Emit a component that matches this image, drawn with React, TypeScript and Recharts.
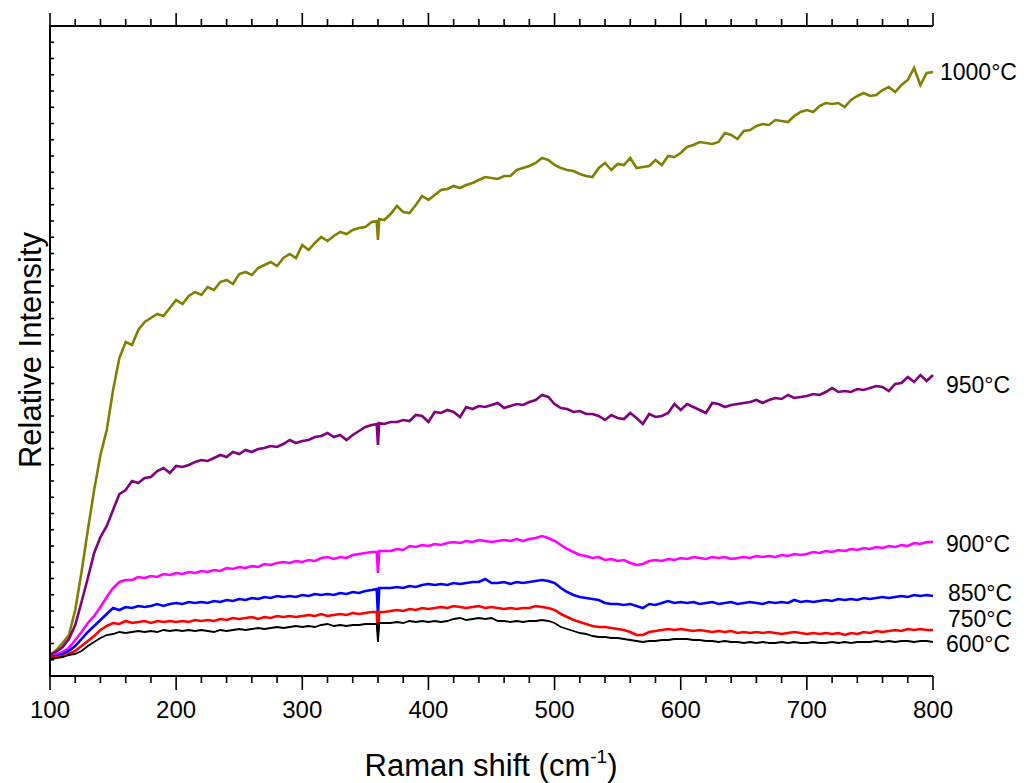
import { LineChart, Line, XAxis, YAxis } from "recharts";

// Raman shift grid (cm-1): every 5 cm-1, plus a finer step around the 360 spike
const shift = [
  ...Array.from({ length: 52 }, (_, i) => 100 + i * 5),
  359, 360, 361,
  ...Array.from({ length: 88 }, (_, i) => 365 + i * 5),
];

// relative intensity, arbitrary units (0 = baseline of the frame)
const t1000 = [
  21, 26, 33, 41, 66, 104, 146, 186, 221, 246, 286, 318, 334, 331, 346, 354, 358, 362, 360, 368,
  376, 372, 380, 384, 381, 389, 386, 394, 396, 392, 402, 404, 401, 408, 411, 414, 410, 418, 422, 418,
  431, 426, 433, 439, 435, 440, 444, 442, 446, 448, 449, 454, 455, 436, 457, 456, 462, 470, 464, 463, 471, 480,
  476, 481, 486, 487, 490, 488, 491, 493, 496, 499, 498, 497, 500, 500, 506, 508, 510, 513, 518, 516,
  511, 508, 506, 505, 502, 500, 499, 508, 513, 506, 512, 511, 518, 508, 509, 510, 516, 511, 520, 519,
  523, 529, 531, 534, 533, 532, 534, 543, 541, 537, 545, 546, 550, 552, 551, 556, 555, 554, 560, 564,
  566, 564, 570, 573, 572, 573, 569, 576, 580, 583, 580, 581, 586, 589, 584, 591, 596, 608, 591, 603,
  604,
];
const t950 = [
  21, 24, 29, 37, 51, 74, 98, 123, 139, 150, 166, 182, 186, 195, 193, 198, 199, 205, 208, 203,
  210, 209, 211, 214, 216, 215, 218, 221, 219, 224, 222, 226, 224, 227, 228, 230, 229, 232, 236, 233,
  235, 236, 239, 240, 243, 239, 241, 236, 241, 245, 249, 251, 252, 231, 253, 252, 254, 254, 256, 255, 261, 260,
  254, 264, 263, 266, 264, 259, 269, 267, 270, 269, 271, 273, 268, 270, 272, 271, 274, 276, 281, 279,
  272, 268, 267, 264, 265, 262, 262, 260, 256, 261, 258, 257, 263, 258, 252, 262, 259, 260, 263, 272,
  266, 272, 269, 266, 263, 273, 272, 269, 271, 272, 273, 274, 276, 273, 276, 278, 277, 281, 278, 279,
  280, 282, 281, 284, 288, 284, 285, 284, 287, 286, 288, 290, 289, 285, 292, 293, 299, 294, 301, 295,
  301,
];
const t900 = [
  19, 21, 24, 28, 36, 44, 53, 60, 69, 79, 88, 94, 96, 96, 99, 98, 100, 99, 102, 101,
  103, 102, 104, 103, 105, 104, 106, 105, 108, 107, 109, 108, 110, 109, 112, 111, 113, 114, 113, 115,
  114, 116, 115, 118, 119, 117, 119, 118, 121, 122, 123, 124, 124, 103, 125, 125, 125, 127, 126, 130, 129, 131,
  130, 132, 131, 133, 134, 133, 135, 134, 136, 135, 134, 135, 136, 135, 137, 135, 137, 138, 140, 138,
  135, 131, 127, 124, 121, 120, 118, 119, 116, 117, 115, 116, 113, 111, 112, 115, 116, 115, 117, 116,
  118, 117, 119, 118, 117, 119, 118, 119, 117, 118, 119, 118, 120, 119, 120, 119, 121, 120, 122, 121,
  122, 124, 123, 125, 124, 126, 125, 127, 126, 128, 127, 129, 128, 130, 129, 131, 130, 133, 132, 134,
  134,
];
const t850 = [
  19, 20, 22, 25, 30, 37, 44, 50, 56, 62, 68, 66, 69, 68, 70, 69, 70, 72, 70, 72,
  73, 72, 74, 73, 74, 73, 75, 74, 76, 75, 77, 76, 78, 77, 79, 78, 80, 79, 80, 79,
  81, 80, 82, 81, 82, 81, 83, 82, 84, 83, 85, 86, 87, 61, 88, 88, 88, 89, 88, 90, 89, 91,
  92, 91, 92, 91, 93, 92, 93, 94, 94, 97, 93, 93, 94, 92, 94, 93, 94, 95, 96, 95,
  93, 88, 84, 81, 79, 78, 77, 76, 73, 72, 72, 71, 72, 70, 68, 72, 71, 73, 75, 73,
  74, 73, 74, 72, 73, 74, 72, 73, 74, 72, 73, 74, 73, 72, 74, 73, 74, 73, 76, 74,
  75, 74, 75, 76, 75, 77, 76, 77, 76, 78, 77, 78, 79, 78, 79, 80, 79, 81, 80, 81,
  80,
];
const t750 = [
  18, 19, 20, 22, 25, 30, 35, 40, 46, 50, 53, 52, 55, 53, 54, 55, 53, 55, 54, 55,
  54, 55, 54, 56, 55, 56, 55, 57, 56, 58, 57, 58, 59, 57, 59, 58, 60, 59, 60, 59,
  60, 61, 60, 62, 60, 61, 62, 61, 63, 62, 63, 64, 64, 43, 64, 64, 65, 66, 65, 67, 66, 68,
  67, 68, 69, 68, 70, 69, 68, 69, 70, 68, 69, 68, 67, 68, 67, 68, 68, 70, 69, 68,
  66, 62, 59, 56, 54, 52, 50, 49, 49, 48, 47, 46, 44, 41, 41, 44, 45, 46, 47, 46,
  47, 46, 45, 46, 45, 44, 45, 44, 45, 43, 44, 43, 44, 43, 44, 43, 42, 43, 44, 43,
  42, 43, 42, 43, 42, 43, 41, 43, 42, 44, 43, 45, 44, 45, 46, 45, 47, 46, 47, 46,
  46,
];
const t600 = [
  17, 18, 19, 21, 22, 25, 30, 34, 38, 41, 42, 44, 43, 44, 45, 44, 45, 44, 46, 45,
  46, 45, 46, 45, 46, 45, 44, 46, 45, 46, 47, 46, 47, 48, 47, 48, 49, 48, 49, 50,
  49, 50, 49, 51, 52, 50, 51, 50, 51, 51, 52, 52, 52, 34, 53, 53, 53, 54, 53, 55, 54, 55,
  54, 55, 54, 55, 57, 58, 56, 57, 58, 57, 58, 55, 55, 54, 55, 54, 55, 55, 56, 55,
  53, 49, 47, 45, 43, 42, 40, 39, 39, 38, 38, 37, 36, 35, 34, 35, 35, 36, 36, 37,
  37, 37, 36, 36, 35, 35, 34, 35, 34, 34, 33, 34, 33, 34, 33, 33, 34, 33, 34, 33,
  33, 34, 33, 33, 34, 33, 34, 33, 34, 34, 34, 35, 34, 35, 34, 35, 35, 34, 35, 35,
  34,
];

const minorTicks = Array.from({ length: 36 }, (_, i) => 100 + i * 20);
const yTicks = Array.from({ length: 39 }, (_, i) => (i + 1) * 16.25);

const series = [
  { key: "t1000", color: "#808000", width: 2.6, values: t1000 },
  { key: "t950", color: "#800080", width: 2.6, values: t950 },
  { key: "t900", color: "#ff00ff", width: 2.6, values: t900 },
  { key: "t850", color: "#0000ff", width: 2.6, values: t850 },
  { key: "t750", color: "#ff0000", width: 2.6, values: t750 },
  { key: "t600", color: "#000000", width: 1.8, values: t600 },
];

// end labels: left x, baseline y
const endLabels = [
  { text: "1000°C", x: 940, y: 80 },
  { text: "950°C", x: 946, y: 393 },
  { text: "900°C", x: 946, y: 552 },
  { text: "850°C", x: 948, y: 601 },
  { text: "750°C", x: 948, y: 627 },
  { text: "600°C", x: 946, y: 652 },
];

const rows = shift.map((x, i) => {
  const row: Record<string, number> = { x };
  series.forEach((s) => (row[s.key] = s.values[i]));
  return row;
});

const font = "Arial, 'Liberation Sans', sans-serif";
const PLOT_TOP = 26;
const PLOT_BOTTOM = 676;
const PLOT_LEFT = 50;

function BottomTick({ x, payload }: any) {
  const major = payload.value % 100 === 0;
  const y = PLOT_BOTTOM;
  return (
    <g>
      <line x1={x} x2={x} y1={y} y2={y + (major ? 14 : 7)} stroke="#000" strokeWidth={1.6} />
      {major && (
        <text x={x} y={y + 42} textAnchor="middle" fontSize={24} fontFamily={font} fill="#000">
          {payload.value}
        </text>
      )}
    </g>
  );
}

function TopTick({ x, payload }: any) {
  const major = payload.value % 100 === 0;
  const y = PLOT_TOP;
  return <line x1={x} x2={x} y1={y} y2={y - (major ? 13 : 7)} stroke="#000" strokeWidth={1.6} />;
}

function LeftTick({ y }: any) {
  return <line x1={PLOT_LEFT} x2={PLOT_LEFT + 4} y1={y} y2={y} stroke="#000" strokeWidth={1.6} />;
}

export default function App() {
  return (
    <div style={{ position: "absolute", left: 0, top: 0, width: 1028, height: 783, background: "#fff" }}>
      <LineChart
        width={1028}
        height={783}
        data={rows}
        margin={{ top: 6, right: 95, bottom: 57, left: 30 }}
      >
        <XAxis
          dataKey="x"
          type="number"
          domain={[100, 800]}
          ticks={minorTicks}
          interval={0}
          height={50}
          tickSize={0}
          tickMargin={0}
          tickLine={false}
          tick={(p: any) => <BottomTick {...p} />}
          axisLine={{ stroke: "#000", strokeWidth: 2 }}
        />
        <XAxis
          xAxisId="top"
          orientation="top"
          dataKey="x"
          type="number"
          domain={[100, 800]}
          ticks={minorTicks}
          interval={0}
          height={20}
          tickSize={0}
          tickMargin={0}
          tickLine={false}
          tick={(p: any) => <TopTick {...p} />}
          axisLine={{ stroke: "#000", strokeWidth: 2 }}
        />
        <YAxis
          type="number"
          domain={[0, 650]}
          ticks={yTicks}
          interval={0}
          width={20}
          tickSize={0}
          tickMargin={0}
          tickLine={false}
          tick={(p: any) => <LeftTick {...p} />}
          axisLine={{ stroke: "#000", strokeWidth: 2 }}
        />
        {series.map((s) => (
          <Line
            key={s.key}
            dataKey={s.key}
            type="linear"
            stroke={s.color}
            strokeWidth={s.width}
            dot={false}
            activeDot={false}
            isAnimationActive={false}
          />
        ))}
      </LineChart>
      <svg
        width={1028}
        height={783}
        style={{ position: "absolute", left: 0, top: 0, pointerEvents: "none" }}
        fontFamily={font}
      >
        {endLabels.map((l) => (
          <text key={l.text} x={l.x} y={l.y} fontSize={23} fill="#000">
            {l.text}
          </text>
        ))}
        <text x={491} y={776} textAnchor="middle" fontSize={31} fill="#000">
          Raman shift (cm
          <tspan fontSize={19} dy={-13}>-1</tspan>
          <tspan dy={13}>)</tspan>
        </text>
        <text
          x={0}
          y={0}
          transform="translate(41 350) rotate(-90)"
          textAnchor="middle"
          fontSize={31}
          fill="#000"
        >
          Relative Intensity
        </text>
      </svg>
    </div>
  );
}
